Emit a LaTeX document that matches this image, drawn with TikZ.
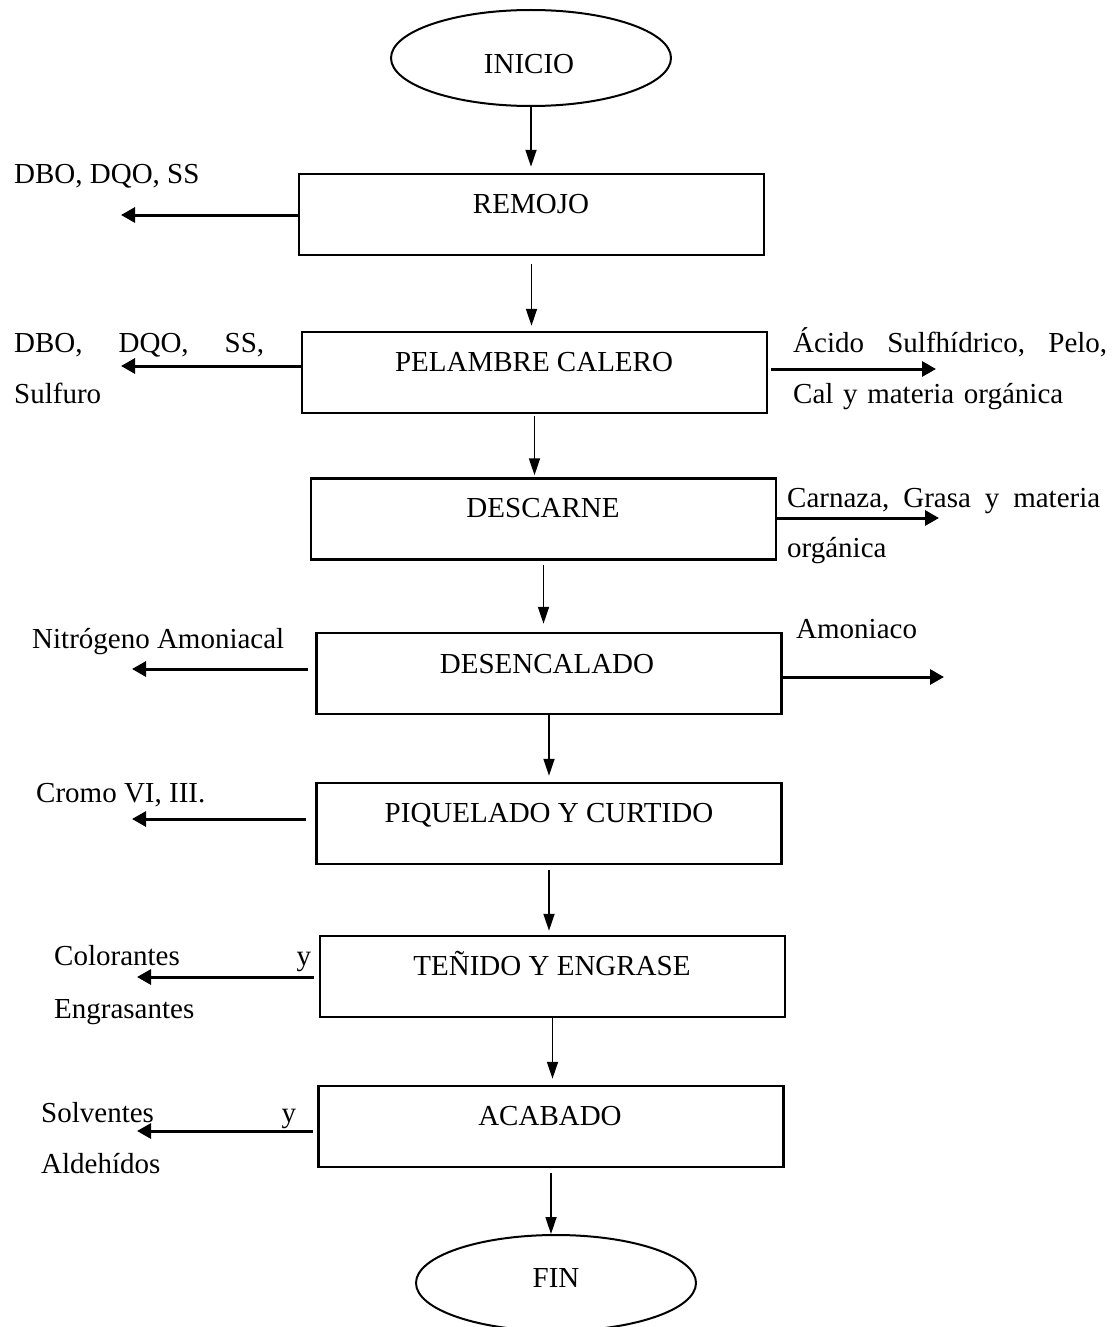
\documentclass[tikz,border=0pt]{standalone}
\usepackage{fontspec}
\setmainfont{Liberation Serif}
\usetikzlibrary{shapes.geometric,arrows.meta}
\begin{document}
\begin{tikzpicture}[x=1pt,y=-1pt,
  font=\fontsize{29}{51}\selectfont,
  procbox/.style={draw,line width=2.5pt,minimum width=465pt,minimum height=81pt,inner sep=0pt},
  termnode/.style={draw,ellipse,line width=2pt,minimum width=280pt,minimum height=96pt,inner sep=0pt},
  boxtext/.style={anchor=base,inner sep=0pt},
  outtext/.style={anchor=base west,inner sep=0pt,align=left},
  vflow/.style={line width=1.8pt,-{Triangle[length=17pt,width=11pt]}},
  sflow/.style={line width=3pt,-{Triangle[length=14pt,width=15pt]}}
]
\useasboundingbox (0,0) rectangle (1113,1327);

% terminals
\node[termnode] (inicio) at (531,58) {};
\node[boxtext] (inicioT) at (529,74) {INICIO};
\node[termnode] (fin) at (556,1283) {};
\node[boxtext] (finT) at (556,1287) {FIN};

% process boxes
\node[procbox] (remojo) at (531.5,214.5) {};
\node[procbox] (pelambre) at (534.5,372.5) {};
\node[procbox] (descarne) at (543.5,519) {};
\node[procbox] (desencalado) at (549,673.5) {};
\node[procbox] (piquelado) at (549,823.5) {};
\node[procbox] (tenido) at (552.5,976.5) {};
\node[procbox] (acabado) at (551,1126.5) {};

\node[boxtext] (remojoT) at (531,213) {REMOJO};
\node[boxtext] (pelambreT) at (534,371) {PELAMBRE CALERO};
\node[boxtext] (descarneT) at (543,517) {DESCARNE};
\node[boxtext] (desencaladoT) at (547,673) {DESENCALADO};
\node[boxtext] (piqueladoT) at (549,822) {PIQUELADO Y CURTIDO};
\node[boxtext] (tenidoT) at (552,975) {TEÑIDO Y ENGRASE};
\node[boxtext] (acabadoT) at (550,1125) {ACABADO};

% output labels
\node[outtext] (o1) at (14,183) {DBO, DQO, SS};
\node[outtext,text width=250pt] (o2) at (14,352) {DBO,\hfill DQO,\hfill SS,\\Sulfuro};
\node[outtext,text width=314pt] (o3) at (793,352) {Ácido\hfill Sulfhídrico,\hfill Pelo,\\Cal y materia orgánica};
\node[outtext,text width=313pt] (o4) at (787,507) {Carnaza,\hfill Grasa\hfill y\hfill materia\\[-1pt]orgánica};
\node[outtext] (o5) at (32,648) {Nitrógeno Amoniacal};
\node[outtext] (o6) at (796,638) {Amoniaco};
\node[outtext] (o7) at (36,802) {Cromo VI, III.};
\node[outtext,text width=257pt] (o8) at (54,965) {Colorantes\hfill y\\[2pt]Engrasantes};
\node[outtext,text width=255pt] (o9) at (41,1122) {Solventes\hfill y\\Aldehídos};

% main flow
\draw[vflow,shorten >=6pt] (inicio.south) -- (inicio.south |- remojo.north);
\draw[vflow,shorten <=8pt,shorten >=5pt] (remojo.south) -- (remojo.south |- pelambre.north);
\draw[vflow,shorten <=2pt,shorten >=2pt] (pelambre.south) -- (pelambre.south |- descarne.north);
\draw[vflow,shorten <=4pt,shorten >=8pt] (descarne.south) -- (descarne.south |- desencalado.north);
\draw[vflow,shorten >=6pt] (desencalado.south) -- (desencalado.south |- piquelado.north);
\draw[vflow,shorten <=5pt,shorten >=4pt] (piquelado.south) -- (piquelado.south |- tenido.north);
\draw[vflow,shorten >=6pt] (tenido.south) -- (tenido.south |- acabado.north);
\draw[vflow,shorten <=5pt] (acabado.south) -- (acabado.south |- fin.north);

% side outputs
\coordinate (eRemojo) at (121,215);
\coordinate (ePelL) at (121,366);
\coordinate (ePelR) at (936,369);
\coordinate (eDesR) at (939,518);
\coordinate (eDenL) at (132,669);
\coordinate (eDenR) at (944,677);
\coordinate (ePiqL) at (132,819);
\coordinate (eTenL) at (137,977);
\coordinate (eAcaL) at (137,1131);

\draw[sflow] (remojo.west |- eRemojo) -- (eRemojo);
\draw[sflow] (pelambre.west |- ePelL) -- (ePelL);
\draw[sflow,shorten <=3pt] (pelambre.east |- ePelR) -- (ePelR);
\draw[sflow] (descarne.east |- eDesR) -- (eDesR);
\draw[sflow,shorten <=7pt] (desencalado.west |- eDenL) -- (eDenL);
\draw[sflow] (desencalado.east |- eDenR) -- (eDenR);
\draw[sflow,shorten <=9pt] (piquelado.west |- ePiqL) -- (ePiqL);
\draw[sflow,shorten <=5pt] (tenido.west |- eTenL) -- (eTenL);
\draw[sflow,shorten <=4pt] (acabado.west |- eAcaL) -- (eAcaL);
\end{tikzpicture}
\end{document}
